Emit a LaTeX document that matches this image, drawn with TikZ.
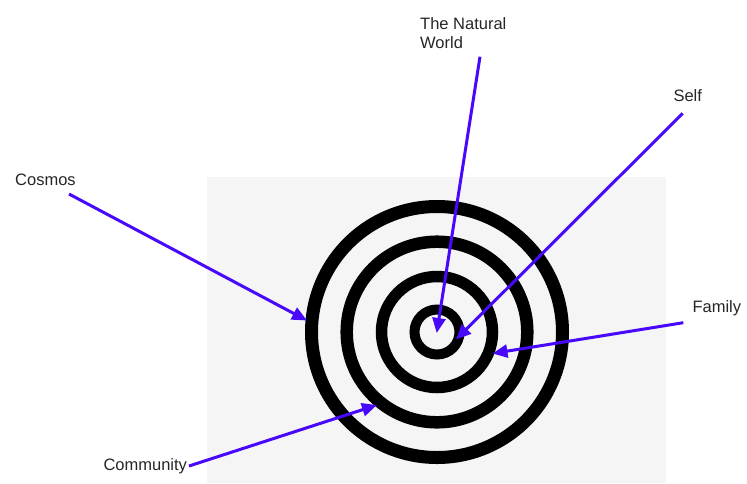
\documentclass[tikz,border=0pt]{standalone}
\usepackage{fontspec}
\setmainfont{Liberation Sans}
\usetikzlibrary{arrows.meta}
\definecolor{arrowblue}{RGB}{72,8,250}
\definecolor{panelgray}{RGB}{245,245,245}
\tikzset{
  lbl/.style={anchor=base west, inner sep=0pt, font=\fontsize{16.5}{19}\selectfont, text=black!85, align=left},
  ring/.style={draw=black},
  pointer/.style={draw=arrowblue, line width=3pt, -{Triangle[length=15pt,width=13pt]}}
}
\begin{document}
\begin{tikzpicture}[x=1pt,y=-1pt]
\useasboundingbox (0,0) rectangle (747,483);
\fill[panelgray] (207,177) rectangle (666,483);
\coordinate (c) at (437,332);
\draw[ring, line width=13pt] (c) circle[radius=125.5];
\draw[ring, line width=12.5pt] (c) circle[radius=90.3];
\draw[ring, line width=11.5pt] (c) circle[radius=55.5];
\draw[ring, line width=10pt] (c) circle[radius=22.5];
% labels
\node[lbl] (natural) at (420,48.3) {The Natural\\World};
\node[lbl] (self) at (673.3,101.7) {Self};
\node[lbl] (cosmos) at (15,185.5) {Cosmos};
\node[lbl] (family) at (692.3,312.3) {Family};
\node[lbl] (community) at (103.3,470) {Community};
% arrow ends
\coordinate (naturalS) at (480,56.7);
\coordinate (naturalT) at (436.7,333);
\coordinate (selfS) at (682.7,113.3);
\coordinate (selfT) at (456,339.5);
\coordinate (cosmosS) at (69,194);
\coordinate (cosmosT) at (307,320.5);
\coordinate (familyS) at (683.3,322.7);
\coordinate (familyT) at (492.5,353.5);
\coordinate (communityS) at (189,466);
\coordinate (communityT) at (377,405);
\draw[pointer] (naturalS) -- (naturalT);
\draw[pointer] (selfS) -- (selfT);
\draw[pointer] (cosmosS) -- (cosmosT);
\draw[pointer] (familyS) -- (familyT);
\draw[pointer] (communityS) -- (communityT);
\end{tikzpicture}
\end{document}
